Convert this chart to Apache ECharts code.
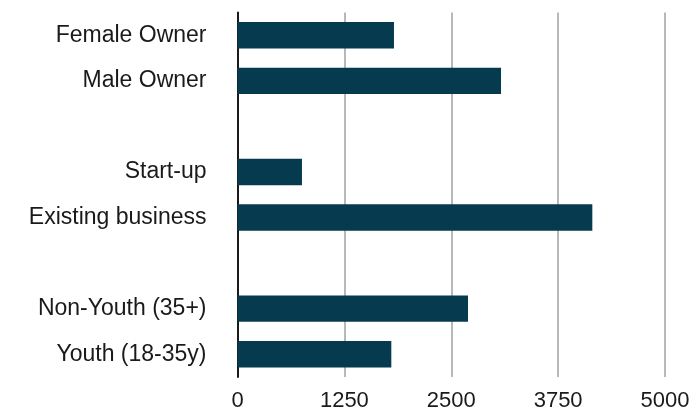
<!DOCTYPE html>
<html>
<head>
<meta charset="utf-8">
<script src="https://cdn.jsdelivr.net/npm/echarts@6/dist/echarts.min.js"></script>
<style>
html,body{margin:0;padding:0;background:#fff;}
#chart{width:693px;height:417px;}
</style>
</head>
<body>
<div id="chart"></div>
<script>
var categories = ['Female Owner', 'Male Owner', ' ', 'Start-up', 'Existing business', '  ', 'Non-Youth (35+)', 'Youth (18-35y)'];
var values = [1830, 3082, null, 754, 4150, null, 2696, 1799];
var xTicks = [0, 1250, 2500, 3750, 5000];

var chart = echarts.init(document.getElementById('chart'));
chart.setOption({
  animation: false,
  grid: {left: 237.5, right: 28, top: 12.5, bottom: 40, containLabel: false},
  xAxis: {
    type: 'value',
    min: xTicks[0],
    max: xTicks[xTicks.length - 1],
    interval: xTicks[1] - xTicks[0],
    axisLine: {show: false},
    axisTick: {show: false},
    splitLine: {show: true, lineStyle: {color: '#b8b8b8', width: 2}},
    axisLabel: {
      color: '#1a1a1a', fontSize: 22, fontFamily: 'Liberation Sans, Arial, sans-serif', margin: 13,
      formatter: function (v) { return String(v); }
    }
  },
  yAxis: {
    type: 'category',
    inverse: true,
    data: categories,
    axisLine: {show: true, lineStyle: {color: '#1a1a1a', width: 2}},
    axisTick: {show: false},
    splitLine: {show: false},
    axisLabel: {color: '#1a1a1a', fontSize: 23, fontFamily: 'Liberation Sans, Arial, sans-serif', margin: 31, padding: [5, 0, 0, 0]}
  },
  series: [{
    type: 'bar',
    data: values,
    barWidth: '58%',
    itemStyle: {color: '#053a4f'}
  }]
});
</script>
</body>
</html>
